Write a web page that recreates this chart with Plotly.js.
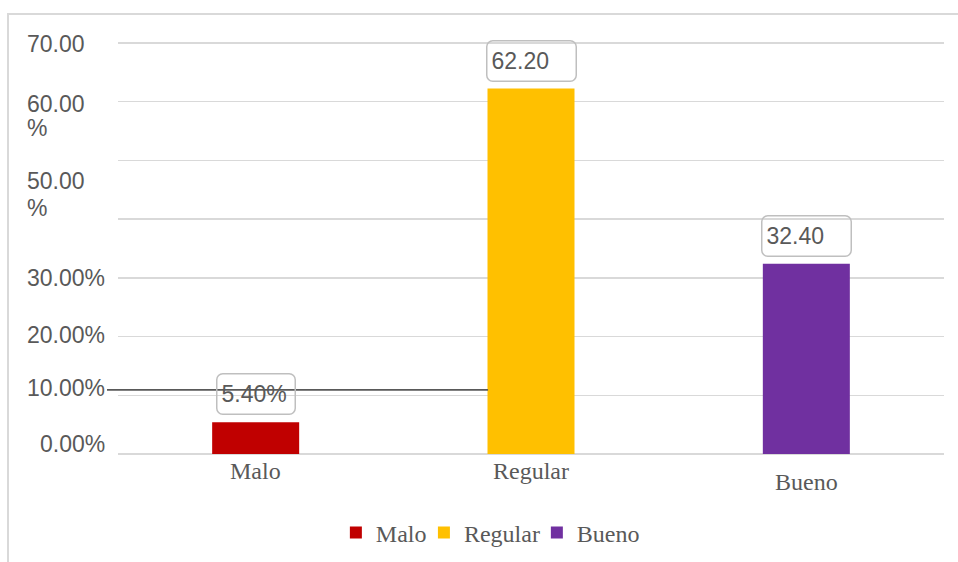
<!DOCTYPE html>
<html>
<head>
<meta charset="utf-8">
<script src="https://cdn.plot.ly/plotly-3.0.1.min.js"></script>
<style>
  html, body { margin: 0; padding: 0; background: #fff; }
  #wrap { position: relative; width: 958px; height: 562px; }
  #chart { position: absolute; left: 0; top: 0; width: 958px; height: 562px; }
  #frame { position: absolute; left: 7px; top: 13px; width: 951px; height: 549px;
           border-top: 2px solid #d9d9d9; border-left: 2px solid #d9d9d9;
           box-sizing: border-box; pointer-events: none; }
</style>
</head>
<body>
<div id="wrap">
  <div id="chart"></div>
  <div id="frame"></div>
</div>
<script>
// ---- data ----
const categories = ['Malo', 'Regular', 'Bueno'];
const values = [5.4, 62.2, 32.4];
const valueLabels = ['5.40%', '62.20', '32.40'];
const colors = ['#C00000', '#FFC000', '#7030A0'];
const yTickVals = [0, 10, 20, 30, 50, 60, 70];
const yTickText = ['0.00%', '10.00%', '20.00%', '30.00%', '50.00<br>%', '60.00<br>%', '70.00'];
const strayLineLevel = 10.9;

// ---- styles ----
const grey = '#595959';
const sansFont = 'Liberation Sans, Arial, sans-serif';
const serifFont = 'Liberation Serif, Times New Roman, serif';
const barWidth = 0.316;
const tickLineShifts = [[10], [7], [2], [0], [-21, -48], [-2, -26], [-1]];
const labelBoxWidths = [69, 80, 80];
const catShifts = [-17, -17, -28];
const legendXs = [0.3506, 0.4425, 0.5604];   // container fractions for each legend entry
const legendIds = ['legend', 'legend2', 'legend3'];

const traces = categories.map((c, i) => ({
  type: 'bar',
  x: [c],
  y: [values[i]],
  name: c,
  width: barWidth,
  marker: { color: colors[i] },
  legend: legendIds[i],
  hoverinfo: 'x+y'
}));

const annotations = [];
yTickVals.forEach((v, i) => {
  const lines = yTickText[i].split('<br>');
  const wrapped = lines.length > 1 || yTickText[i].indexOf('%') < 0;
  lines.forEach((ln, k) => {
    annotations.push({
      xref: 'paper', yref: 'y', x: 0, y: v,
      xanchor: wrapped ? 'left' : 'right', yanchor: 'middle',
      xshift: wrapped ? -93 : -11,
      yshift: tickLineShifts[i][k],
      text: ln, showarrow: false,
      font: { family: sansFont, size: 23, color: grey }
    });
  });
});
categories.forEach((c, i) => {
  annotations.push({
    xref: 'x', yref: 'paper', x: c, y: 0,
    xanchor: 'center', yanchor: 'middle', yshift: catShifts[i],
    text: c, showarrow: false,
    font: { family: serifFont, size: 24, color: grey }
  });
});
categories.forEach((c, i) => {
  annotations.push({
    xref: 'x', yref: 'y', x: c, y: values[i],
    xanchor: 'center', yanchor: 'bottom', yshift: 7,
    text: valueLabels[i], showarrow: false,
    width: labelBoxWidths[i], height: 31, align: 'left', valign: 'middle',
    bgcolor: 'rgba(255,255,255,0)', bordercolor: '#bfbfbf', borderwidth: 1.5, borderpad: 4,
    font: { family: sansFont, size: 23, color: grey }
  });
});

const layout = {
  width: 958, height: 562,
  margin: { l: 118, r: 14, t: 41, b: 108 },
  paper_bgcolor: '#ffffff', plot_bgcolor: '#ffffff',
  barmode: 'overlay',
  showlegend: true,
  xaxis: {
    type: 'category', categoryorder: 'array', categoryarray: categories,
    range: [-0.5, 2.5], showticklabels: false, showgrid: false,
    showline: false, zeroline: false, ticks: ''
  },
  yaxis: {
    range: [0, 70.3], tickvals: [0, 10, 20, 30, 40, 50, 60, 70],
    showticklabels: false, showgrid: true, gridcolor: '#d9d9d9', gridwidth: 1.5,
    zeroline: true, zerolinecolor: '#d9d9d9', zerolinewidth: 1.5, showline: false, ticks: ''
  },
  shapes: [
    { // the 10% gridline is not drawn left of the Regular bar
      type: 'line', xref: 'paper', yref: 'y',
      x0: 0, x1: 0.448, y0: 10, y1: 10,
      line: { color: '#ffffff', width: 3 }, layer: 'below'
    },
    {
      type: 'line', xref: 'paper', yref: 'y',
      x0: -0.0133, x1: 0.448, y0: strayLineLevel, y1: strayLineLevel,
      line: { color: grey, width: 1.8 }, layer: 'above'
    }
  ],
  annotations: annotations
};
legendIds.forEach((id, i) => {
  layout[id] = {
    orientation: 'h', xref: 'container', x: legendXs[i], xanchor: 'left',
    yref: 'container', y: 0.0516, yanchor: 'middle',
    bgcolor: 'rgba(0,0,0,0)',
    font: { family: serifFont, size: 24, color: grey },
    itemclick: false, itemdoubleclick: false
  };
});

Plotly.newPlot('chart', traces, layout, { displayModeBar: false, staticPlot: true }).then(() => {
  document.querySelectorAll('.annotation rect.bg').forEach(r => {
    r.setAttribute('rx', 6);
    r.setAttribute('ry', 6);
  });
});
</script>
</body>
</html>
